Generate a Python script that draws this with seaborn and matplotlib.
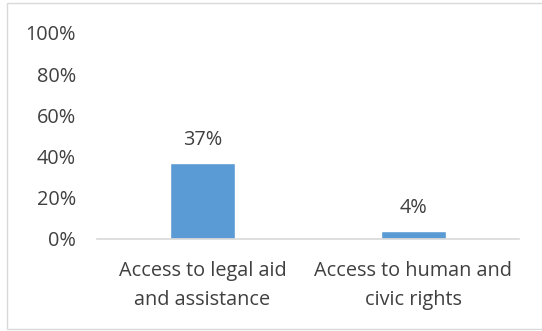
import matplotlib
matplotlib.use("Agg")
import matplotlib.pyplot as plt
import seaborn as sns
import pandas as pd
from matplotlib.patches import Rectangle

categories = ["Access to legal aid\nand assistance", "Access to human and\ncivic rights"]
shares = [0.37, 0.04]
y_ticks = [0.0, 0.2, 0.4, 0.6, 0.8, 1.0]
y_tick_labels = ["0%", "20%", "40%", "60%", "80%", "100%"]

df = pd.DataFrame({"category": categories, "share": shares})

sns.set_theme(style="white")
plt.rcParams["font.family"] = ["Open Sans", "DejaVu Sans"]

W, H = 542, 331
fig = plt.figure(figsize=(W / 100, H / 100), dpi=100)
fig.patch.set_facecolor("white")

# chart frame
fig.patches.append(Rectangle((7 / W, 1 - 329 / H), 1.2, (329 - 3) / H,
                             transform=fig.transFigure, fill=False,
                             edgecolor="#D9D9D9", linewidth=1.0))

ax = fig.add_axes([97 / W, 1 - 239 / H, (519 - 97) / W, (239 - 33) / H])
text_color = "#404040"
fs = 14.3
sns.barplot(data=df, x="category", y="share", color="#5B9BD5", width=0.31,
            saturation=1, ax=ax)

ax.set_ylim(0, 1)
ax.set_xlim(-0.5, 1.5)
ax.set_yticks(y_ticks)
ax.set_yticklabels(y_tick_labels, color=text_color, fontsize=fs)
ax.set_xlabel("")
ax.set_ylabel("")
ax.tick_params(axis="x", labelsize=fs, labelcolor=text_color, pad=15.5, length=0)
ax.tick_params(axis="y", pad=15, length=0)
for lbl in ax.get_xticklabels():
    lbl.set_linespacing(1.6)

for side in ["top", "right", "left"]:
    ax.spines[side].set_visible(False)
ax.spines["bottom"].set_color("#D9D9D9")
ax.spines["bottom"].set_linewidth(1.2)

for i, v in enumerate(shares):
    ax.annotate(f"{round(v * 100)}%", (i, v), xytext=(0, 9),
                textcoords="offset points", ha="center", va="bottom",
                color=text_color, fontsize=fs)

fig.savefig("out.png", dpi=100)
